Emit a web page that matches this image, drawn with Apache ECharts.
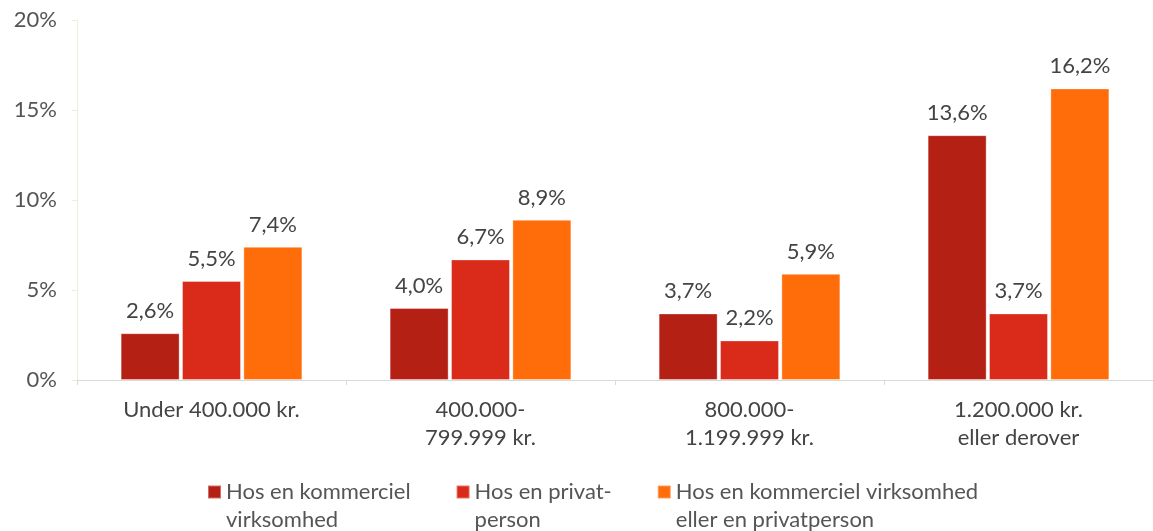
<!DOCTYPE html>
<html>
<head>
<meta charset="utf-8">
<script src="https://cdn.jsdelivr.net/npm/echarts@6/dist/echarts.min.js"></script>
<style>
  html, body { margin: 0; padding: 0; background: #fff; }
  #main { width: 1153px; height: 531px; }
</style>
</head>
<body>
<div id="main"></div>
<script>
var categories = ['Under 400.000 kr.', '400.000-\n799.999 kr.', '800.000-\n1.199.999 kr.', '1.200.000 kr.\neller derover'];
var seriesNames = ['Hos en kommerciel\nvirksomhed', 'Hos en privat-\nperson', 'Hos en kommerciel virksomhed\neller en privatperson'];
var kommerciel = [2.6, 4.0, 3.7, 13.6];
var privat = [5.5, 6.7, 2.2, 3.7];
var begge = [7.4, 8.9, 5.9, 16.2];
var yTicks = [0, 5, 10, 15, 20];

var colors = ['#B52015', '#DA2A1A', '#FF6C0A'];
var font = 'Lato';

function fmt(v) {
    return v.toFixed(1).replace('.', ',') + '%';
}

function makeSeries(name, data, color) {
    return {
        name: name,
        type: 'bar',
        data: data,
        barWidth: 59,
        barGap: '4%',
        itemStyle: {
            color: color,
            borderColor: 'rgba(255,255,255,0.35)',
            borderWidth: 1
        },
        label: {
            show: true,
            position: 'top',
            distance: 11,
            color: '#444',
            fontFamily: font,
            fontSize: 22,
            formatter: function (p) { return fmt(p.value); }
        }
    };
}

var myChart = echarts.init(document.getElementById('main'));

var option = {
    animation: false,
    grid: { left: 77, right: -6, top: 20, bottom: 151, containLabel: false },
    legend: {
        left: 207,
        top: 450,
        padding: 0,
        itemGap: 45,
        itemWidth: 13,
        itemHeight: 13,
        icon: 'rect',
        // leading empty line keeps the icon level with the first text line
        formatter: function (name) { return '\n' + name; },
        textStyle: {
            color: '#555',
            fontFamily: font,
            fontSize: 22,
            lineHeight: 28
        },
        data: seriesNames
    },
    xAxis: {
        type: 'category',
        data: categories,
        axisLine: { lineStyle: { color: '#d9d9d9', width: 1 } },
        axisTick: { show: true, length: 5, lineStyle: { color: '#d9d9d9' } },
        axisLabel: {
            color: '#444',
            fontFamily: font,
            fontSize: 22,
            lineHeight: 28,
            margin: 16
        }
    },
    yAxis: {
        type: 'value',
        min: yTicks[0],
        max: yTicks[yTicks.length - 1],
        interval: 5,
        axisLine: { show: true, lineStyle: { color: '#efece0', width: 1 } },
        axisTick: { show: true, length: 5, lineStyle: { color: '#efece0' } },
        splitLine: { show: false },
        axisLabel: {
            color: '#555',
            fontFamily: font,
            fontSize: 22,
            margin: 20,
            formatter: function (v) { return v + '%'; }
        }
    },
    series: [
        makeSeries(seriesNames[0], kommerciel, colors[0]),
        makeSeries(seriesNames[1], privat, colors[1]),
        makeSeries(seriesNames[2], begge, colors[2])
    ]
};

myChart.setOption(option);
</script>
</body>
</html>
